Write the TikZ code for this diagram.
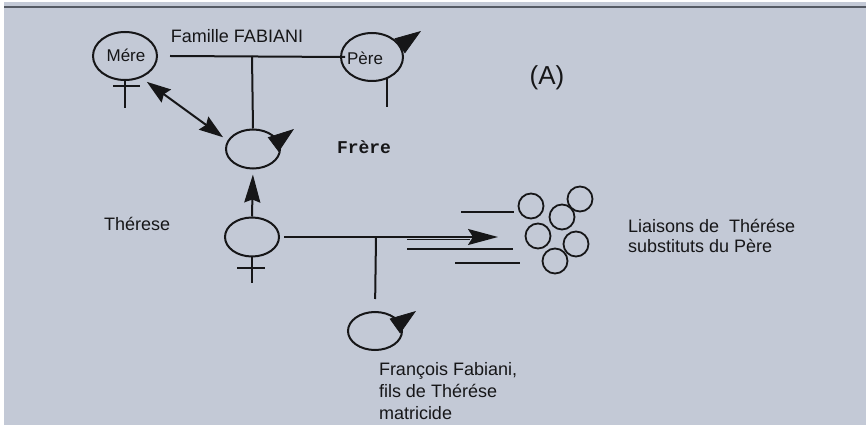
\documentclass[tikz,border=0pt]{standalone}
\usepackage{fontspec}
\setmainfont{Liberation Sans}
\newfontfamily\monob{Liberation Mono}[BoldFont={Liberation Mono Bold}]
\usetikzlibrary{arrows.meta,shapes.geometric,calc}
\definecolor{bgc}{RGB}{195,201,214}
\definecolor{ink}{RGB}{22,22,24}
\definecolor{rule}{RGB}{85,90,100}
\begin{document}
\begin{tikzpicture}[x=1pt,y=-1pt,
  line width=2pt, draw=ink,
  ell/.style={ellipse, draw=ink, line width=2pt, inner sep=0pt, minimum width=#1},
  ring/.style={circle, draw=ink, line width=1.8pt, inner sep=0pt, minimum size=25pt},
  txt/.style={font=\fontsize{18}{21}\selectfont, text=ink, inner sep=0pt},
  male/.style={draw=ink, fill=ink, line width=0.8pt, -{Triangle[length=26pt,width=18pt]}},
  dbl/.style={draw=ink, {Stealth[length=24pt,width=16pt,inset=3pt]}-{Stealth[length=24pt,width=16pt,inset=3pt]}},
  uparrow/.style={draw=ink, -{Stealth[length=28pt,width=16pt,inset=3pt]}},
  mainarrow/.style={draw=ink, -{Stealth[length=30pt,width=16pt,inset=5pt]}}
]
\useasboundingbox (0,0) rectangle (866,427);
\fill[white] (0,0) rectangle (866,427);
\fill[bgc] (4,2) rectangle (866,425);
\draw[rule, line width=2.5pt] (4,7) -- (866,7);

% family nodes
\node[ell=64pt, minimum height=48pt] (mere) at (125,56) {};
\node[txt, font=\fontsize{17}{20}\selectfont] (mereT) at (126,55) {Mére};
\node[ell=62pt, minimum height=48pt] (pere) at (372,57) {};
\node[txt, font=\fontsize{17}{20}\selectfont] (pereT) at (365,58) {Père};
\node[txt] (fam) at (237,36) {Famille FABIANI};
\node[txt, font=\fontsize{26}{30}\selectfont] (A) at (547,78) {(A)};

\node[ell=54pt, minimum height=39pt] (frere) at (253,149) {};
\node[txt, font=\monob\bfseries\fontsize{18}{20}\selectfont] (frereT) at (364,147) {Frère};

\node[ell=54pt, minimum height=39pt] (therese) at (252,237) {};
\node[txt, anchor=base west] (thereseT) at (103,231) {Thérese};

\node[ell=54pt, minimum height=38pt] (francois) at (375,331) {};
\node[txt, anchor=base west, align=left, font=\fontsize{18}{22}\selectfont] (francoisT) at (378,419)
  {François Fabiani,\\fils de Thérése\\matricide};

\node[txt, anchor=base west, align=left, font=\fontsize{18}{20}\selectfont] (liaisT) at (627,253)
  {Liaisons de\ \ Thérése\\substituts du Père};

% circles
\node[ring] (c1) at (531,206) {};
\node[ring] (c2) at (580,199) {};
\node[ring] (c3) at (562,217) {};
\node[ring] (c4) at (538,236) {};
\node[ring] (c5) at (576,244) {};
\node[ring] (c6) at (555,261) {};

% coordinates
\coordinate (fj) at (252,56);
\coordinate (pl) at (387,79);
\coordinate (tj) at (376,237);
\coordinate (tip) at (498,237);

% family line
\draw ([xshift=12pt]mere.east) -- ([xshift=5pt]pere.west);
\draw (fj) -- (frere.north);
% Venus Mere
\draw (mere.south) -- ++(0,27);
\draw (113,86) -- (140,86);
% Pere line
\draw (pl) -- ++(0,28);
% male arrows
\draw[male] (274,144) -- (294,129);
\draw[male] (401,45) -- (421,31);
\draw[male] (395,326) -- (416,311);
% double arrow
\draw[dbl, shorten <=27pt, shorten >=37pt] ([yshift=-10pt]mere.center) -- ([yshift=-10pt]frere.center);
% Therese to Frere
\draw[uparrow, shorten >=5pt] (therese.north) -- (frere.south);
% Venus Therese
\draw (therese.south) -- ++(0,25);
\draw (237,268) -- (265,268);
% main arrow
\draw[mainarrow, shorten <=4pt] (therese.east) -- (tip);
\draw[line width=1.2pt] (407,239.5) -- (470,239.5);
\draw (407,249) -- (513,249);
\draw (461,212) -- (514,212);
\draw (455,263) -- (520,263);
% down to Francois
\draw[shorten >=12pt] (tj) -- (francois.north);
\end{tikzpicture}
\end{document}
